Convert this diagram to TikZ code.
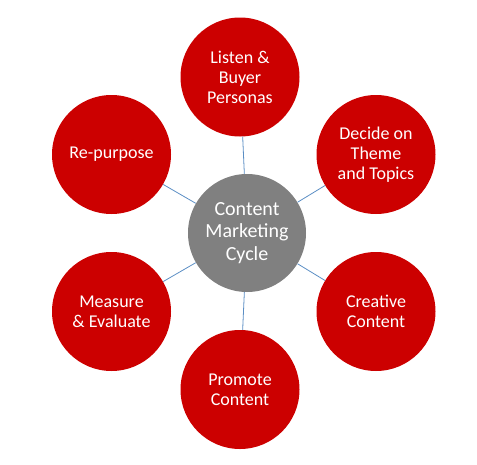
\documentclass[tikz,border=0pt]{standalone}
\usepackage{fontspec}
\setmainfont{Carlito}
\definecolor{cred}{HTML}{CC0000}
\definecolor{cgray}{HTML}{808080}
\definecolor{cblue}{HTML}{5B8EC4}
\begin{document}
\begin{tikzpicture}[x=1pt,y=-1pt,
  stage/.style={circle, fill=cred, minimum size=119pt, inner sep=0pt, text=white, align=center, font=\fontsize{18}{20}\selectfont},
  hub/.style={circle, fill=cgray, minimum size=118pt, inner sep=0pt, text=white, align=center, font=\fontsize{20}{22.5}\selectfont},
  link/.style={draw=cblue, line width=0.8pt}]
\useasboundingbox (0,0) rectangle (477,464);
\node[hub] (hub) at (247,233) {Content\\Marketing\\Cycle};
\node[stage] (listen) at (240,77) {Listen \&\\Buyer\\Personas};
\node[stage] (decide) at (376,154.5) {Decide on\\Theme\\and Topics};
\node[stage] (create) at (376,311.5) {Creative\\Content};
\node[stage] (promote) at (240,389.5) {Promote\\Content};
\node[stage] (measure) at (111.5,311.5) {Measure\\\& Evaluate};
\node[stage] (repurpose) at (111.5,154.5) {Re-purpose};
\foreach \n in {listen,decide,create,promote,measure,repurpose}
  \draw[link] (hub) -- (\n);
\end{tikzpicture}
\end{document}
